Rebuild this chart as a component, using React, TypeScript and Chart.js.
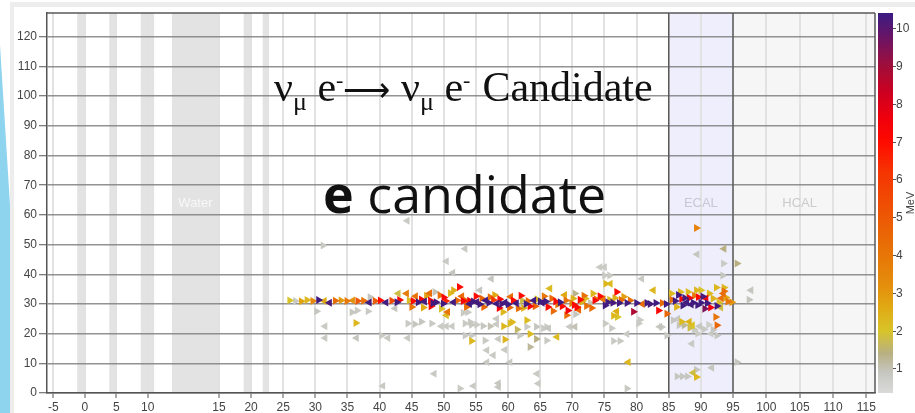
import React, { useEffect, useRef } from 'react';
import { Chart, registerables, LinearScale } from 'chart.js';

Chart.register(...registerables);

// ---- axes -----------------------------------------------------------------
const xTickValues = [-5, 0, 5, 10, 15, 20, 25, 30, 35, 40, 45, 50, 55, 60, 65, 70, 75, 80, 85, 90, 95, 100, 105, 110, 115];
const yTickValues = [0, 10, 20, 30, 40, 50, 60, 70, 80, 90, 100, 110, 120];
const energyTickValues = [1, 2, 3, 4, 5, 6, 7, 8, 9, 10];

// ---- detector geometry along the beam axis ---------------------------------
const passiveLayers: [number, number][] = [
  [-1.2, 0.1],
  [3.9, 5.1],
  [8.9, 10.45],
  [18.85, 20],
  [21.8, 22.8],
];
const waterRegion: [number, number] = [11.7, 15];
const ecalRegion: [number, number] = [85, 95];
const hcalStart = 95;

// ---- energy colour map (MeV -> colour) --------------------------------------
const energyStops: [number, number, number, number][] = [
  [0.35, 218, 218, 218],
  [0.9, 198, 198, 192],
  [1.4, 184, 176, 130],
  [2.0, 216, 196, 40],
  [2.6, 224, 170, 20],
  [3.2, 228, 142, 12],
  [4.2, 232, 112, 6],
  [5.2, 238, 82, 4],
  [6.2, 246, 52, 2],
  [7.0, 255, 10, 0],
  [7.6, 240, 0, 12],
  [8.3, 205, 0, 32],
  [9.0, 160, 14, 58],
  [9.7, 110, 20, 98],
  [10.4, 58, 28, 132],
];

// ---- hits: [x, y, energy MeV, direction (+1 forward / -1 backward)] --------
type Hit = [number, number, number, number];

const upstreamTrack: Hit[] = [
  [26.0, 31.2, 2.0, 1], [26.9, 31.0, 0.8, 1], [27.8, 30.9, 2.7, 1], [28.7, 31.3, 2.3, 1],
  [29.6, 31.0, 3.4, 1], [30.5, 31.3, 10.3, 1], [31.4, 31.0, 2.6, -1], [32.2, 30.4, 10.2, -1],
  [33.1, 31.1, 4.3, 1], [34.0, 31.2, 2.9, 1], [34.9, 31.0, 3.9, 1], [35.8, 31.2, 3.1, -1],
  [36.6, 31.0, 5.0, 1], [37.5, 31.1, 4.2, 1], [38.4, 30.5, 10.3, -1], [39.3, 31.0, 4.8, 1],
  [40.1, 31.2, 7.0, 1], [41.0, 30.5, 10.3, -1], [41.9, 31.1, 5.5, 1], [42.7, 30.6, 10.3, 1],
  [43.1, 31.3, 7.2, 1], [42.9, 33.5, 1.8, -1],
];

const showerCore: Hit[] = [
  [44.2, 33.5, 3.8, -1], [44.6, 31.2, 2.2, 1], [45.2, 31.0, 7.0, 1], [45.6, 32.6, 4.0, -1],
  [46.0, 30.6, 10.3, 1], [46.5, 31.5, 7.5, 1], [47.0, 30.8, 10.3, -1], [47.3, 32.8, 2.8, 1],
  [47.8, 33.6, 4.2, -1], [47.9, 31.2, 7.0, 1], [48.3, 30.2, 10.3, 1], [48.6, 34.0, 1.0, 1],
  [48.8, 30.6, 10.2, 1], [49.4, 32.9, 4.2, 1], [49.6, 28.4, 2.0, 1], [49.9, 30.1, 10.3, 1],
  [50.3, 31.0, 6.5, 1], [50.6, 27.3, 4.0, -1], [51.0, 33.6, 2.2, 1], [51.5, 34.6, 2.5, 1],
  [51.5, 30.6, 10.3, -1], [52.1, 31.2, 4.5, 1], [52.4, 35.7, 7.0, 1], [53.0, 31.0, 7.2, 1],
  [53.5, 31.0, 4.8, 1], [54.0, 31.1, 7.5, 1], [54.0, 30.0, 10.3, -1], [54.6, 30.8, 10.3, 1],
  [55.1, 30.6, 10.2, -1], [55.6, 29.9, 10.3, 1], [55.9, 31.8, 4.5, 1], [56.5, 31.2, 10.3, -1],
  [57.0, 30.4, 10.3, 1], [57.2, 32.3, 4.2, 1], [57.7, 31.3, 6.0, 1], [58.2, 30.1, 10.3, -1],
  [58.7, 31.6, 7.2, 1], [59.0, 30.0, 10.2, 1], [59.5, 30.5, 10.3, -1], [60.0, 29.9, 10.3, 1],
  [60.2, 28.8, 4.5, 1], [60.8, 31.2, 7.0, 1], [61.3, 30.2, 10.3, -1], [61.6, 28.5, 4.2, 1],
  [62.2, 31.2, 1.8, 1], [62.8, 30.0, 10.3, 1], [63.1, 31.0, 4.3, 1], [63.4, 29.2, 7.2, 1],
  [64.0, 31.2, 10.3, -1], [64.5, 31.6, 2.2, 1], [65.0, 30.8, 10.3, 1], [65.3, 30.4, 10.2, -1],
  [65.9, 30.8, 10.3, 1], [66.2, 29.0, 7.0, 1], [66.5, 35.2, 2.2, -1], [66.8, 31.8, 4.5, 1],
  [67.4, 30.8, 7.2, 1], [67.7, 29.8, 4.0, 1], [68.1, 30.6, 10.3, 1], [68.4, 29.2, 7.0, 1],
  [69.0, 31.2, 4.2, 1], [69.3, 27.8, 7.5, 1], [69.9, 30.2, 3.8, 1], [70.1, 31.8, 2.4, 1],
  [70.4, 33.5, 1.3, 1], [70.7, 28.9, 7.0, 1], [71.0, 28.0, 4.5, -1], [71.5, 30.7, 2.4, 1],
  [72.0, 31.8, 2.2, 1], [72.2, 29.3, 4.2, 1], [72.8, 30.3, 1.0, 1], [73.2, 33.5, 2.3, 1],
  [73.7, 31.6, 4.0, 1], [74.3, 32.6, 7.0, 1], [74.8, 31.6, 4.0, -1], [75.1, 29.5, 10.3, 1],
  [75.5, 30.6, 10.3, 1], [75.8, 31.4, 2.2, 1], [76.3, 30.4, 10.2, 1], [76.6, 32.0, 2.4, 1],
  [76.9, 34.0, 7.0, 1], [77.3, 30.3, 10.3, 1], [77.6, 31.3, 4.3, 1], [78.0, 32.4, 2.8, 1],
  [78.5, 30.3, 10.3, 1], [79.0, 31.2, 4.2, 1], [79.5, 27.4, 8.8, 1], [80.0, 30.3, 10.3, 1],
  [80.9, 30.0, 4.3, -1], [81.6, 30.3, 10.3, 1], [82.1, 30.0, 10.2, 1], [82.6, 34.6, 2.3, -1],
  [83.0, 30.3, 10.3, 1], [83.4, 27.8, 7.2, 1], [84.0, 30.3, 4.3, 1], [84.6, 30.0, 10.3, 1],
  [84.7, 26.7, 4.5, 1], [76.4, 26.0, 2.3, 1], [77.0, 25.6, 2.0, 1], [76.9, 27.5, 2.5, -1],
  [45.0, 29.0, 4.0, 1], [46.8, 28.8, 2.6, 1], [48.0, 29.2, 7.0, 1], [50.0, 32.2, 7.2, 1],
  [52.8, 32.6, 4.4, -1], [53.5, 29.0, 4.2, 1], [55.0, 32.6, 7.0, 1], [56.2, 29.0, 4.5, 1],
  [57.9, 33.0, 2.6, 1], [58.6, 28.6, 7.4, 1], [60.4, 32.4, 4.2, -1], [62.0, 32.8, 7.0, 1],
  [62.4, 28.6, 2.4, 1], [64.2, 29.2, 4.6, 1], [65.6, 32.6, 4.0, 1], [67.0, 27.6, 4.4, 1],
  [68.8, 33.0, 2.6, -1], [70.3, 29.6, 7.2, 1], [71.8, 32.8, 4.2, 1], [73.0, 28.6, 4.4, 1],
  [73.5, 31.2, 7.2, 1], [71.2, 31.4, 7.0, 1],
];

const ecalCluster: Hit[] = [
  [85.4, 33.5, 2.2, 1], [85.5, 31.4, 4.3, 1], [86.0, 31.0, 10.3, 1], [86.5, 33.0, 10.3, 1],
  [87.0, 31.7, 7.2, 1], [87.5, 32.0, 10.2, 1], [87.8, 30.5, 10.3, -1], [88.2, 32.0, 7.5, 1],
  [88.8, 30.4, 10.3, 1], [89.0, 32.8, 4.0, 1], [89.3, 34.6, 2.3, 1], [89.6, 32.3, 7.0, 1],
  [90.0, 30.4, 10.3, 1], [90.3, 32.5, 10.2, 1], [90.6, 28.4, 9.5, 1], [91.0, 30.2, 10.3, 1],
  [91.5, 28.8, 7.5, 1], [91.9, 31.8, 2.4, 1], [92.5, 29.3, 10.3, 1], [92.8, 30.5, 2.2, 1],
  [93.2, 31.9, 4.2, -1], [93.5, 33.5, 4.3, -1], [93.6, 35.5, 2.3, 1], [93.6, 34.3, 4.2, 1],
  [94.2, 30.8, 4.0, 1], [94.8, 30.6, 3.0, 1], [93.1, 28.8, 1.8, -1], [92.3, 25.6, 4.0, 1],
  [92.5, 22.8, 4.5, 1], [90.0, 34.6, 2.0, 1], [88.0, 34.0, 2.2, 1], [92.4, 35.5, 2.3, 1],
  [86.2, 29.0, 2.4, 1], [87.2, 29.5, 10.3, 1], [88.5, 29.8, 10.3, -1], [89.5, 29.6, 10.3, 1],
  [86.8, 34.0, 2.2, 1], [91.3, 33.5, 2.3, 1], [90.8, 31.8, 7.2, -1], [93.9, 32.2, 2.6, 1],
];

const ecalHalo: Hit[] = [
  [85.7, 24.5, 0.9, 1], [86.4, 25.0, 0.8, -1], [86.6, 22.8, 0.9, 1], [87.4, 22.8, 1.2, 1],
  [88.7, 22.8, 2.0, -1], [87.0, 24.0, 2.2, 1], [88.2, 24.0, 2.4, -1], [88.3, 22.0, 1.8, 1],
  [89.0, 21.3, 0.8, 1], [89.8, 22.5, 0.9, -1], [90.5, 21.5, 0.8, 1], [91.2, 23.0, 0.7, 1],
  [91.9, 21.3, 0.9, 1], [92.5, 19.4, 0.9, 1], [91.6, 20.0, 0.8, -1], [89.5, 20.0, 0.8, 1],
  [88.6, 16.6, 0.8, -1], [86.3, 5.6, 0.9, 1], [87.1, 5.6, 0.9, 1], [87.9, 5.6, 0.9, 1],
  [88.8, 6.8, 1.8, -1], [89.3, 5.4, 2.3, 1], [89.3, 7.8, 0.9, 1], [91.7, 8.5, 0.9, -1],
  [95.6, 10.4, 0.9, 1], [89.3, 55.6, 3.6, 1], [93.6, 48.6, 1.4, -1], [89.4, 46.7, 0.9, -1],
  [93.5, 43.6, 0.8, 1], [93.4, 39.6, 0.9, 1], [95.6, 43.6, 1.4, 1], [97.7, 34.6, 0.9, -1],
  [97.4, 31.4, 0.9, 1],
];

const showerHalo: Hit[] = [
  [38.5, 32.3, 0.9, 1], [42.4, 28.5, 0.9, -1], [35.7, 27.2, 0.9, 1], [36.5, 27.8, 0.8, 1],
  [38.2, 27.5, 0.8, 1], [30.2, 27.5, 0.9, 1], [36.3, 23.6, 2.3, 1],
  [31.5, 22.5, 0.8, -1], [31.5, 18.5, 0.8, -1], [36.4, 18.5, 0.9, -1], [40.3, 19.4, 0.8, 1],
  [41.3, 18.5, 0.8, -1], [44.4, 18.5, 0.8, -1],
  [44.4, 23.4, 0.8, 1], [45.5, 23.2, 0.9, 1], [46.5, 24.0, 0.9, 1], [48.1, 23.4, 0.8, 1],
  [49.6, 22.5, 0.8, -1], [50.4, 22.5, 0.8, -1], [51.3, 22.5, 0.8, -1],
  [53.3, 23.4, 0.8, 1], [54.3, 23.0, 0.9, 1], [55.1, 23.0, 0.8, 1], [56.1, 22.6, 0.9, 1],
  [57.2, 22.5, 1.0, 1], [58.2, 23.2, 0.8, -1], [59.3, 22.5, 2.3, 1], [60.3, 23.4, 2.2, 1],
  [61.4, 21.4, 1.6, 1], [62.9, 22.3, 0.8, 1], [64.4, 22.3, 0.9, 1], [65.5, 21.8, 0.8, 1],
  [66.3, 21.8, 0.9, -1], [67.6, 18.9, 2.2, -1], [69.6, 22.3, 0.8, -1], [70.4, 22.3, 1.0, -1],
  [54.3, 19.4, 0.8, 1], [54.3, 17.5, 2.3, 1], [56.4, 17.7, 0.8, 1], [58.5, 18.2, 0.8, -1],
  [59.5, 18.0, 2.4, 1], [61.8, 19.4, 0.8, 1], [63.4, 19.9, 2.2, 1], [64.4, 18.2, 1.4, 1],
  [66.0, 17.7, 0.8, 1], [53.0, 27.0, 0.8, 1], [53.7, 27.2, 0.8, 1], [54.1, 23.9, 0.8, 1],
  [58.2, 25.0, 0.8, -1], [59.2, 27.3, 2.3, 1], [60.6, 23.9, 2.3, 1], [62.9, 24.5, 2.2, 1],
  [61.5, 29.5, 0.9, 1], [66.0, 22.2, 0.8, 1], [69.1, 26.2, 4.2, 1], [70.5, 26.5, 0.9, 1],
  [50.4, 26.2, 2.2, -1], [53.3, 19.4, 0.8, 1], [56.7, 14.4, 0.8, -1], [57.7, 12.7, 0.8, -1],
  [59.5, 14.6, 0.8, -1], [56.7, 10.4, 0.8, -1], [60.3, 10.4, 0.8, -1], [63.4, 15.5, 1.2, 1],
  [75.1, 23.4, 0.8, 1], [76.1, 21.8, 0.8, 1], [76.4, 17.5, 0.8, 1], [77.4, 17.5, 0.8, 1],
  [78.5, 19.9, 0.8, -1], [80.3, 23.4, 0.8, 1], [83.6, 22.3, 0.9, -1], [84.7, 19.4, 0.8, 1],
  [80.5, 24.6, 0.8, 1], [83.9, 22.2, 0.8, 1], [78.7, 10.4, 2.3, -1],
];

const strayHits: Hit[] = [
  [31.2, 49.7, 0.8, 1], [44.3, 58.0, 0.8, -1], [50.4, 44.4, 0.8, -1], [51.4, 40.5, 0.9, -1],
  [53.3, 48.6, 0.8, -1], [55.6, 34.6, 0.9, -1], [57.4, 38.5, 0.9, -1], [74.3, 42.4, 0.8, -1],
  [75.0, 42.4, 0.8, -1], [75.0, 39.6, 0.8, 1], [75.8, 39.6, 0.8, 1], [80.8, 38.5, 0.8, -1],
  [75.9, 36.8, 2.2, -1], [75.2, 36.8, 2.3, 1],
  [78.5, 1.5, 0.8, 1], [48.5, 6.5, 0.8, -1], [64.5, 6.5, 0.8, -1], [40.5, 2.4, 0.8, -1],
  [52.5, 1.5, 0.8, 1], [54.6, 2.4, 0.8, -1], [58.5, 2.0, 0.9, -1], [58.5, 3.3, 0.9, -1],
  [64.7, 3.2, 0.8, -1],
];

// ---- helpers ----------------------------------------------------------------
function energyColor(e: number): string {
  const s = energyStops;
  if (e <= s[0][0]) return `rgb(${s[0][1]},${s[0][2]},${s[0][3]})`;
  for (let i = 1; i < s.length; i++) {
    if (e <= s[i][0]) {
      const t = (e - s[i - 1][0]) / (s[i][0] - s[i - 1][0]);
      const c = [1, 2, 3].map((k) => Math.round(s[i - 1][k] + (s[i][k] - s[i - 1][k]) * t));
      return `rgb(${c[0]},${c[1]},${c[2]})`;
    }
  }
  const l = s[s.length - 1];
  return `rgb(${l[1]},${l[2]},${l[3]})`;
}

// Linear scale whose value range is split into segments of different pixel density.
class SegmentedScale extends LinearScale {
  static id = 'segmented';
  static defaults = {};
  toFraction(v: number): number {
    const { knots, fractions } = (this as any).options;
    if (v <= knots[0]) return fractions[0];
    for (let i = 1; i < knots.length; i++) {
      if (v <= knots[i]) {
        const t = (v - knots[i - 1]) / (knots[i] - knots[i - 1]);
        return fractions[i - 1] + t * (fractions[i] - fractions[i - 1]);
      }
    }
    return fractions[fractions.length - 1];
  }
  fromFraction(f: number): number {
    const { knots, fractions } = (this as any).options;
    for (let i = 1; i < fractions.length; i++) {
      if (f <= fractions[i]) {
        const t = (f - fractions[i - 1]) / (fractions[i] - fractions[i - 1]);
        return knots[i - 1] + t * (knots[i] - knots[i - 1]);
      }
    }
    return knots[knots.length - 1];
  }
  getPixelForValue(value: number): number {
    return (this as any).getPixelForDecimal(this.toFraction(value));
  }
  getValueForPixel(pixel: number): number {
    return this.fromFraction((this as any).getDecimalForPixel(pixel));
  }
}
Chart.register(SegmentedScale as any);

const detectorPlugin = {
  id: 'detectorLayout',
  beforeDraw(chart: any) {
    const { ctx, chartArea: a, scales } = chart;
    const x = scales.x;
    const px = (v: number) => x.getPixelForValue(v);
    const h = a.bottom - a.top;
    ctx.save();
    ctx.fillStyle = '#ffffff';
    ctx.fillRect(0, 0, chart.width, chart.height);
    // slide decoration on the left edge
    ctx.fillStyle = '#8ed4ef';
    ctx.beginPath();
    ctx.moveTo(0, 45);
    ctx.lineTo(10, 205);
    ctx.lineTo(10, chart.height);
    ctx.lineTo(0, chart.height);
    ctx.closePath();
    ctx.fill();
    // window frame
    ctx.fillStyle = '#ededed';
    ctx.fillRect(10, 2, 4, chart.height - 2);
    ctx.fillRect(10, 2, chart.width - 10, 5);
    // HCAL and ECAL regions
    ctx.fillStyle = '#f6f6f6';
    ctx.fillRect(px(hcalStart), a.top, a.right - px(hcalStart), h);
    ctx.fillStyle = '#eeeefc';
    ctx.fillRect(px(ecalRegion[0]), a.top, px(ecalRegion[1]) - px(ecalRegion[0]), h);
    // passive layers and water target
    ctx.fillStyle = '#e3e3e3';
    for (const [l, r] of [...passiveLayers, waterRegion]) {
      ctx.fillRect(px(l), a.top, px(r) - px(l), h);
    }
    ctx.restore();
  },
  beforeDatasetsDraw(chart: any) {
    const { ctx, chartArea: a, scales } = chart;
    const x = scales.x;
    const y = scales.y;
    ctx.save();
    ctx.strokeStyle = '#5a5a5a';
    ctx.lineWidth = 1.5;
    ctx.beginPath();
    ctx.moveTo(a.left, a.top);
    ctx.lineTo(a.right, a.top);
    ctx.moveTo(a.right, a.top);
    ctx.lineTo(a.right, a.bottom);
    for (const v of [ecalRegion[0], ecalRegion[1]]) {
      const p = x.getPixelForValue(v);
      ctx.moveTo(p, a.top);
      ctx.lineTo(p, a.bottom);
    }
    ctx.stroke();
    ctx.font = '13px "Liberation Sans", Arial, sans-serif';
    ctx.textAlign = 'center';
    ctx.textBaseline = 'middle';
    const ly = y.getPixelForValue(64);
    ctx.fillStyle = '#f8f8f8';
    ctx.fillText('Water', x.getPixelForValue((waterRegion[0] + waterRegion[1]) / 2), ly);
    ctx.fillStyle = '#c8c8d4';
    ctx.fillText('ECAL', x.getPixelForValue((ecalRegion[0] + ecalRegion[1]) / 2), ly);
    ctx.fillStyle = '#cbcbcb';
    ctx.fillText('HCAL', x.getPixelForValue(105), ly);
    ctx.restore();
  },
  afterDraw(chart: any) {
    const { ctx, chartArea: a } = chart;
    const eMin = energyStops[0][0];
    const eMax = energyStops[energyStops.length - 1][0];
    const left = a.right + 3;
    const width = 15;
    const ep = (e: number) => a.bottom - ((e - eMin) / (eMax - eMin)) * (a.bottom - a.top);
    ctx.save();
    const g = ctx.createLinearGradient(0, a.bottom, 0, a.top);
    for (const s of energyStops) {
      g.addColorStop((s[0] - eMin) / (eMax - eMin), `rgb(${s[1]},${s[2]},${s[3]})`);
    }
    ctx.fillStyle = g;
    ctx.fillRect(left, a.top, width, a.bottom - a.top);
    ctx.strokeStyle = '#555';
    ctx.lineWidth = 1;
    ctx.fillStyle = '#444';
    ctx.font = '12px "Liberation Sans", Arial, sans-serif';
    ctx.textAlign = 'left';
    ctx.textBaseline = 'middle';
    for (const v of energyTickValues) {
      const p = Math.round(ep(v)) + 0.5;
      ctx.beginPath();
      ctx.moveTo(left + width, p);
      ctx.lineTo(left + width + 3, p);
      ctx.stroke();
      ctx.fillText(String(v), left + width + 3, p);
    }
    ctx.translate(left + width + 18, (a.top + a.bottom) / 2);
    ctx.rotate(-Math.PI / 2);
    ctx.textAlign = 'center';
    ctx.font = '11px "Liberation Sans", Arial, sans-serif';
    ctx.fillText('MeV', 0, 0);
    ctx.restore();
  },
};

const hitPoints = [...upstreamTrack, ...showerCore, ...ecalCluster, ...ecalHalo, ...showerHalo, ...strayHits]
  .map(([x, y, e, dir]) => ({ x, y, e, dir }))
  .sort((p, q) => p.e - q.e);

export default function App() {
  const canvasRef = useRef<HTMLCanvasElement | null>(null);

  useEffect(() => {
    if (!canvasRef.current) return;
    Chart.defaults.font.family = '"Liberation Sans", Arial, sans-serif';
    const chart = new Chart(canvasRef.current, {
      type: 'scatter',
      data: {
        datasets: [
          {
            label: 'hits',
            data: hitPoints as any,
            pointStyle: 'triangle',
            pointRadius: 4.6,
            pointBorderWidth: 0,
            pointBackgroundColor: (c: any) => (c.raw ? energyColor(c.raw.e) : '#ccc'),
            pointRotation: (c: any) => (c.raw && c.raw.dir < 0 ? -90 : 90),
          } as any,
        ],
      },
      options: {
        responsive: false,
        animation: false,
        events: [],
        layout: { padding: { left: 0, top: 13, right: 40, bottom: 0 } },
        plugins: { legend: { display: false }, tooltip: { enabled: false } },
        scales: {
          x: {
            type: 'segmented' as any,
            min: -6,
            max: 116.3,
            knots: [-6, 10, 15, 95, 116.3],
            fractions: [0, 0.1216, 0.2077, 0.8285, 1],
            afterBuildTicks: (s: any) => {
              s.ticks = xTickValues.map((value) => ({ value }));
            },
            afterFit: (s: any) => {
              s.height = 20;
            },
            grid: { color: '#e2e2e2', lineWidth: 2, tickColor: '#555', tickLength: 5, tickWidth: 1 },
            border: { display: true, color: '#555', width: 1.5 },
            ticks: {
              autoSkip: false,
              maxRotation: 0,
              padding: 2,
              color: '#444',
              font: { size: 12 },
              callback: (v: any) => String(v),
            },
          } as any,
          y: {
            type: 'linear',
            min: 0,
            max: 128,
            afterBuildTicks: (s: any) => {
              s.ticks = yTickValues.map((value) => ({ value }));
            },
            afterFit: (s: any) => {
              s.width = 47;
            },
            grid: { color: 'rgba(128,128,128,0.85)', lineWidth: 1.5, tickColor: '#555', tickLength: 8, tickWidth: 1 },
            border: { display: true, color: '#555', width: 1.5 },
            ticks: { padding: 2, color: '#444', font: { size: 12 }, callback: (v: any) => String(v) },
          },
        },
      } as any,
      plugins: [detectorPlugin],
    });
    return () => chart.destroy();
  }, []);

  const sub: React.CSSProperties = { fontSize: 26, position: 'relative', top: 9 };
  const sup: React.CSSProperties = { fontSize: 22, position: 'relative', top: -14 };

  return (
    <div style={{ position: 'absolute', left: 0, top: 0, width: 915, height: 413 }}>
      <canvas ref={canvasRef} width={915} height={413} style={{ display: 'block' }} />
      <div
        style={{
          position: 'absolute',
          left: 274,
          top: 66,
          fontFamily: '"Liberation Serif", "Times New Roman", serif',
          fontSize: 42,
          lineHeight: '42px',
          whiteSpace: 'nowrap',
          color: '#111',
        }}
      >
        ν<span style={sub}>μ</span> e<span style={sup}>-</span>
        <span style={{ fontSize: 33 }}>⟶</span> ν<span style={sub}>μ</span> e
        <span style={sup}>-</span>
        <span style={{ marginLeft: 12 }}>Candidate</span>
      </div>
      <div
        style={{
          position: 'absolute',
          left: 323,
          top: 167,
          fontFamily: '"Open Sans", "Noto Sans", sans-serif',
          fontSize: 52,
          lineHeight: '52px',
          whiteSpace: 'nowrap',
          color: '#111',
        }}
      >
        <span style={{ fontWeight: 700 }}>e</span> candidate
      </div>
    </div>
  );
}
